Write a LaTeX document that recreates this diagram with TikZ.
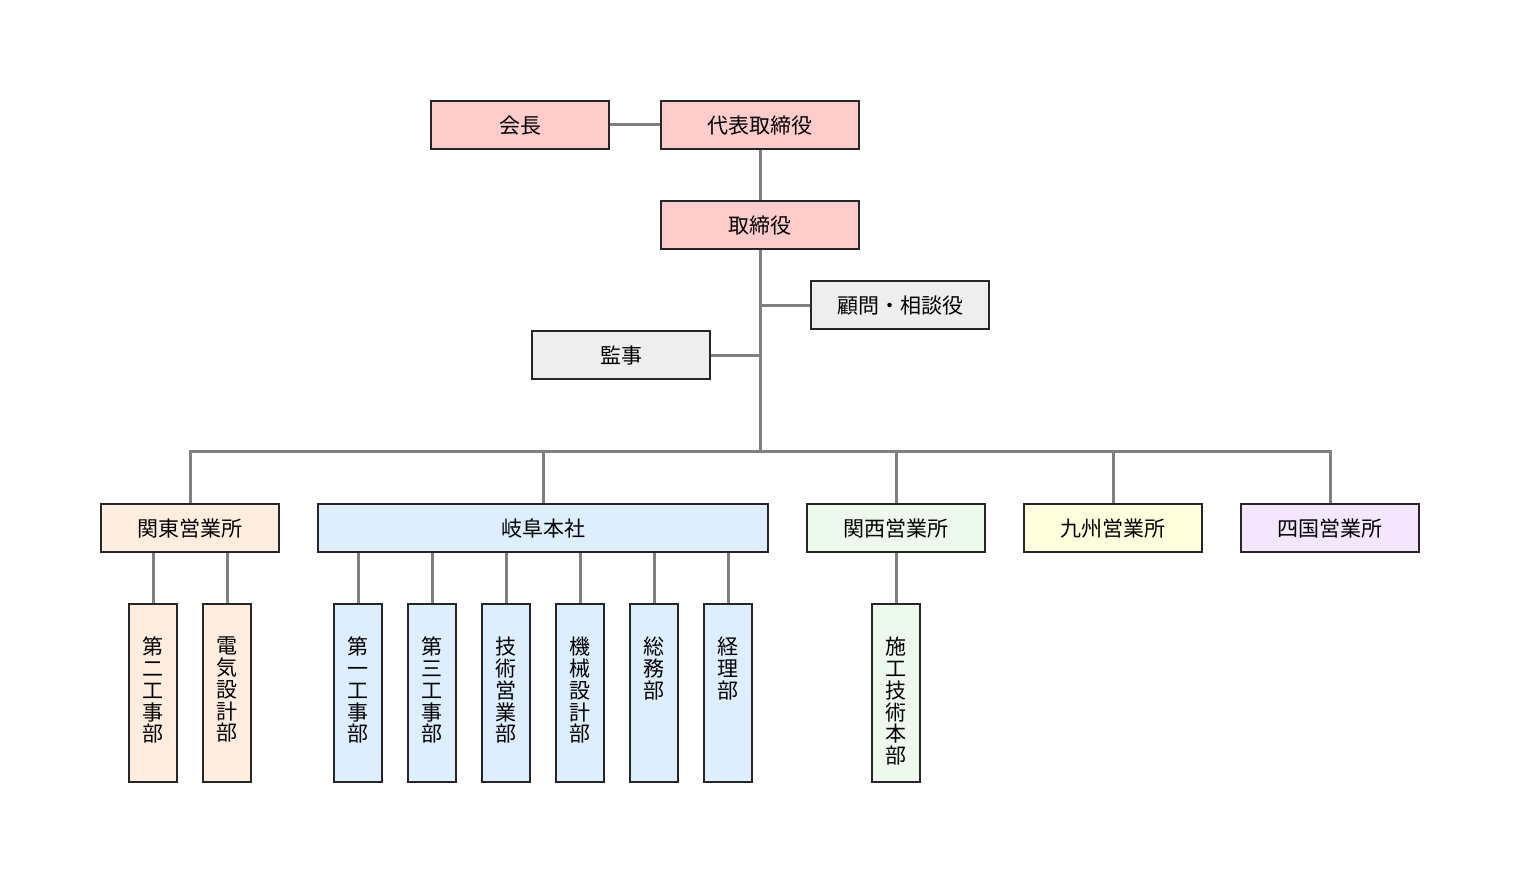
\documentclass[tikz,border=0pt]{standalone}
\usepackage{fontspec}
\setmainfont{Noto Sans CJK JP}
\usepackage{tikz}
\definecolor{yakuin}{HTML}{FFCCCC}
\definecolor{sanyo}{HTML}{EEEEEE}
\definecolor{kanto}{HTML}{FFEEE0}
\definecolor{gifu}{HTML}{DDEEFF}
\definecolor{kansai}{HTML}{EEF9EE}
\definecolor{kyushu}{HTML}{FFFFDD}
\definecolor{shikoku}{HTML}{F4E6FF}
\definecolor{sen}{HTML}{808080}
\newcommand{\tate}[1]{\parbox[c][89pt][t]{1.2em}{\vspace*{16.5pt}\centering #1}}

\begin{document}
\begin{tikzpicture}[x=0.5pt, y=-0.5pt, node distance=50pt,
  box/.style={draw=black!85, line width=0.75pt, inner sep=0pt, minimum width=89pt, minimum height=24pt, text depth=0.5pt, font=\fontsize{10.5pt}{12pt}\selectfont},
  bu/.style={draw=black!85, line width=0.75pt, inner sep=0pt, minimum width=24pt, minimum height=89pt, font=\fontsize{10.5pt}{10.9pt}\selectfont},
  line/.style={draw=sen, line width=1.5pt}]
\useasboundingbox (0,0) rectangle (1520,883);
% yakuin
\node[box, fill=yakuin] (kaicho) at (520,125) {会長};
\node[box, fill=yakuin, minimum width=99pt] (daihyo) at (760,125) {代表取締役};
\node[box, fill=yakuin, minimum width=99pt, below of=daihyo] (torishimari) {取締役};
\node[box, fill=sanyo] (komon) at (900,305) {顧問・相談役};
\node[box, fill=sanyo] (kansa) at (621,355) {監事};
\coordinate (bus) at (760,451);
% eigyosho
\node[box, fill=kanto] (kantoeigyo) at (190,528) {関東営業所};
\node[box, fill=gifu, minimum width=225pt] (honsha) at (543,528) {岐阜本社};
\node[box, fill=kansai] (kansaieigyo) at (896,528) {関西営業所};
\node[box, fill=kyushu] (kyushueigyo) at (1113,528) {九州営業所};
\node[box, fill=shikoku] (shikokueigyo) at (1330,528) {四国営業所};
% bu
\node[bu, fill=kanto] (dai2) at (153,693) {\tate{第\\二\\工\\事\\部}};
\node[bu, fill=kanto] (denki) at (227,693) {\tate{電\\気\\設\\計\\部}};
\node[bu, fill=gifu] (dai1) at (358,693) {\tate{第\\一\\工\\事\\部}};
\node[bu, fill=gifu] (dai3) at (432,693) {\tate{第\\三\\工\\事\\部}};
\node[bu, fill=gifu] (gijutsu) at (506,693) {\tate{技\\術\\営\\業\\部}};
\node[bu, fill=gifu] (kikai) at (580,693) {\tate{機\\械\\設\\計\\部}};
\node[bu, fill=gifu] (somu) at (654,693) {\tate{総\\務\\部}};
\node[bu, fill=gifu] (keiri) at (728,693) {\tate{経\\理\\部}};
\node[bu, fill=kansai] (seko) at (896,693) {\tate{施\\工\\技\\術\\本\\部}};
% sen
\draw[line] (kaicho) -- (daihyo);
\draw[line] (daihyo) -- (torishimari);
\draw[line] (torishimari.south) -- (bus);
\draw[line] (komon.west) -- (komon.west -| bus);
\draw[line] (kansa.east) -- (kansa.east -| bus);
\foreach \e in {kantoeigyo, honsha, kansaieigyo, kyushueigyo, shikokueigyo}
  \draw[line] (bus) -| (\e.north);
\foreach \b/\e in {dai2/kantoeigyo, denki/kantoeigyo, dai1/honsha, dai3/honsha, gijutsu/honsha, kikai/honsha, somu/honsha, keiri/honsha, seko/kansaieigyo}
  \draw[line] (\b.north) -- (\b.north |- \e.south);
\end{tikzpicture}
\end{document}
